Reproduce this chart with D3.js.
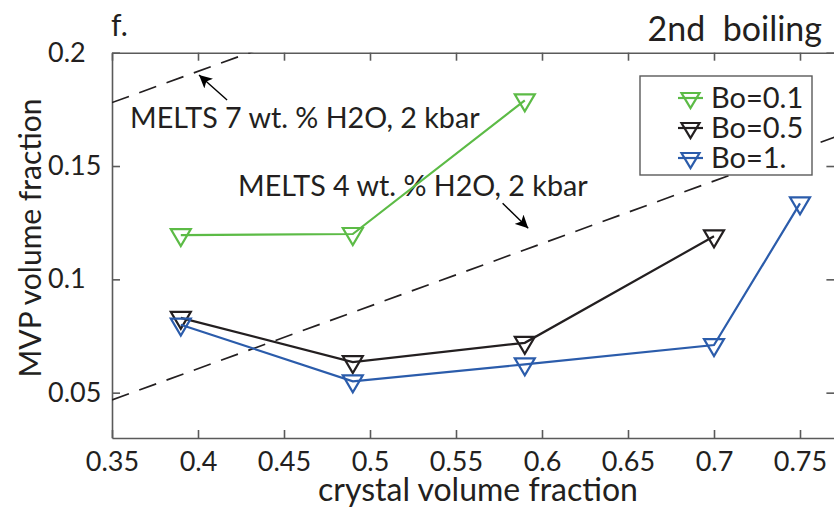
<!DOCTYPE html>
<html>
<head>
<meta charset="utf-8">
<script src="https://cdn.jsdelivr.net/npm/d3@7"></script>
<style>
  html, body { margin: 0; padding: 0; background: #fff; }
  svg { display: block; }
  text { font-family: Lato, "Open Sans", sans-serif; fill: #231f20; }
</style>
</head>
<body>
<svg id="chart" width="834" height="508"></svg>
<script>
// crystal volume fraction at each run
const crystal = [0.39, 0.49, 0.59, 0.70, 0.75];

// MVP volume fraction for each boiling number
const bo01 = [0.1195, 0.120, 0.179];
const bo05 = [0.083, 0.0635, 0.072, 0.119];
const bo1  = [0.080, 0.055, 0.0625, 0.071, 0.1335];

const seriesNames  = ["Bo=0.1", "Bo=0.5", "Bo=1."];
const seriesColors = ["#5cbb46", "#231f20", "#2b5cab"];

// MELTS reference curves (two end points each)
const meltsX = [0.35, 0.77];
const melts7 = [0.178, 0.2935];
const melts4 = [0.0468, 0.1627];

// tick values and labels
const xTicks = [0.35, 0.4, 0.45, 0.5, 0.55, 0.6, 0.65, 0.7, 0.75];
const xTickLabels = ["0.35", "0.4", "0.45", "0.5", "0.55", "0.6", "0.65", "0.7", "0.75"];
const yTicks = [0.05, 0.1, 0.15, 0.2];
const yTickLabels = ["0.05", "0.1", "0.15", "0.2"];

const svg = d3.select("#chart");
const FONT = "Lato, 'Open Sans', sans-serif";
const FS = 27;

const x = d3.scaleLinear().domain([0.35, 0.77]).range([112, 834.4]);
const y = d3.scaleLinear().domain([0.03, 0.2]).range([438, 52.7]);

const axisColor = "#5a5a5a";

svg.append("defs").append("clipPath").attr("id", "plotClip")
  .append("rect")
  .attr("x", x(0.35)).attr("y", y(0.2))
  .attr("width", x(0.77) - x(0.35)).attr("height", y(0.03) - y(0.2));

// axes (ticks point inward)
function styleAxis(g) {
  g.select(".domain").attr("stroke", axisColor).attr("stroke-width", 1.6);
  g.selectAll(".tick line").attr("stroke", axisColor).attr("stroke-width", 1.6);
  g.selectAll(".tick text").attr("font-size", FS).attr("fill", "#231f20")
    .attr("font-family", FONT);
}

svg.append("g")
  .attr("transform", `translate(0,${y(0.03)})`)
  .call(d3.axisBottom(x).tickValues(xTicks)
    .tickFormat((d, i) => xTickLabels[i])
    .tickSizeInner(-8).tickSizeOuter(0).tickPadding(14))
  .call(styleAxis);

svg.append("g")
  .attr("transform", `translate(0,${y(0.2)})`)
  .call(d3.axisTop(x).tickValues(xTicks).tickFormat("")
    .tickSizeInner(-8).tickSizeOuter(0))
  .call(styleAxis);

// y tick labels sit flush left in a column beside the axis
const yAxisG = svg.append("g")
  .attr("transform", `translate(${x(0.35)},0)`)
  .call(d3.axisLeft(y).tickValues(yTicks)
    .tickFormat((d, i) => yTickLabels[i])
    .tickSizeInner(-8).tickSizeOuter(0).tickPadding(64))
  .call(styleAxis);
yAxisG.selectAll(".tick text").attr("text-anchor", "start");

svg.append("g")
  .attr("transform", `translate(${x(0.77)},0)`)
  .call(d3.axisRight(y).tickValues(yTicks).tickFormat("")
    .tickSizeInner(-8).tickSizeOuter(0))
  .call(styleAxis);

// axis titles
svg.append("text")
  .attr("x", 478).attr("y", 501)
  .attr("text-anchor", "middle").attr("font-size", 32)
  .text("crystal volume fraction");

svg.append("text")
  .attr("transform", "translate(41,238) rotate(-90)")
  .attr("text-anchor", "middle").attr("font-size", 30)
  .text("MVP volume fraction");

svg.append("text").attr("x", 111).attr("y", 36).attr("font-size", 30).text("f.");
svg.append("text").attr("x", 822).attr("y", 41).attr("text-anchor", "end")
  .attr("font-size", 34).attr("xml:space", "preserve").text("2nd  boiling");

// MELTS dashed lines
const plot = svg.append("g").attr("clip-path", "url(#plotClip)");
const lineGen = d3.line().x(d => x(d[0])).y(d => y(d[1]));
[melts7, melts4].forEach(vals => {
  plot.append("path")
    .datum(meltsX.map((xv, i) => [xv, vals[i]]))
    .attr("d", lineGen)
    .attr("fill", "none").attr("stroke", "#231f20")
    .attr("stroke-width", 1.7).attr("stroke-dasharray", "18,11");
});

// annotation labels with arrows (data units)
const annotations = [
  { text: "MELTS 7 wt. % H2O, 2 kbar", tx: 0.3605, ty: 0.1668, from: [0.4169, 0.1791], to: [0.4006, 0.1902] },
  { text: "MELTS 4 wt. % H2O, 2 kbar", tx: 0.4233, ty: 0.1367, from: [0.5771, 0.1336], to: [0.592, 0.1225] }
];
svg.select("defs").append("marker")
  .attr("id", "arrowHead").attr("viewBox", "0 0 10 10")
  .attr("refX", 10).attr("refY", 5)
  .attr("markerWidth", 13).attr("markerHeight", 13)
  .attr("markerUnits", "userSpaceOnUse")
  .attr("orient", "auto")
  .append("path").attr("d", "M0,0 L10,5 L0,10 L2.5,5 Z").attr("fill", "#000");

annotations.forEach(a => {
  svg.append("text").attr("x", x(a.tx)).attr("y", y(a.ty))
    .attr("font-size", 28.7).text(a.text);
  svg.append("line")
    .attr("x1", x(a.from[0])).attr("y1", y(a.from[1]))
    .attr("x2", x(a.to[0])).attr("y2", y(a.to[1]))
    .attr("stroke", "#000").attr("stroke-width", 1.4)
    .attr("marker-end", "url(#arrowHead)");
});

// data series
const seriesData = [bo01, bo05, bo1];
const triangle = "M-10,-6 L10,-6 L0,11 Z";

seriesData.forEach((vals, si) => {
  const pts = vals.map((v, i) => [crystal[i], v]);
  const g = svg.append("g");
  g.append("path").datum(pts).attr("d", lineGen)
    .attr("fill", "none").attr("stroke", seriesColors[si]).attr("stroke-width", 2.2);
  g.selectAll("path.mk").data(pts).enter().append("path")
    .attr("class", "mk")
    .attr("d", triangle)
    .attr("transform", d => `translate(${x(d[0])},${y(d[1])})`)
    .attr("fill", "none").attr("stroke", seriesColors[si]).attr("stroke-width", 2.2);
});

// legend
const legend = svg.append("g");
legend.append("rect")
  .attr("x", 640).attr("y", 76).attr("width", 172).attr("height", 99)
  .attr("fill", "#fff").attr("stroke", "#5a5a5a").attr("stroke-width", 1.4);
seriesNames.forEach((name, i) => {
  const ly = 98 + i * 30;
  legend.append("line").attr("x1", 678).attr("x2", 703).attr("y1", ly).attr("y2", ly)
    .attr("stroke", seriesColors[i]).attr("stroke-width", 2.2);
  legend.append("path").attr("d", "M-9,-5 L9,-5 L0,10 Z")
    .attr("transform", `translate(690.5,${ly})`)
    .attr("fill", "none").attr("stroke", seriesColors[i]).attr("stroke-width", 2.2);
  legend.append("text").attr("x", 711).attr("y", ly + 10)
    .attr("font-size", 29).text(name);
});
</script>
</body>
</html>
